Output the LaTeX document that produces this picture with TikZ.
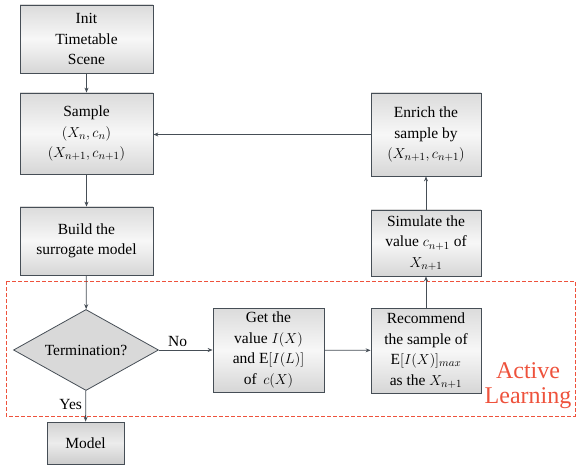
\documentclass[tikz,border=0pt]{standalone}
\usepackage{fontspec}
\setmainfont{Liberation Serif}
\usetikzlibrary{shapes.geometric,arrows.meta}
\definecolor{boxline}{RGB}{70,78,86}
\definecolor{alred}{RGB}{238,82,60}
\begin{document}
\begin{tikzpicture}[x=1pt,y=1pt,yscale=-1,
  font=\fontsize{15.5}{20.5}\selectfont,
  >={Stealth[length=5pt,width=4pt]},
  flowbox/.style={draw=boxline,line width=0.8pt,align=center,inner sep=1pt,
    top color=gray!28,bottom color=gray!32,middle color=gray!6},
  decision/.style={draw=boxline,line width=0.8pt,diamond,aspect=1.8,inner sep=0pt,
    fill=gray!30,minimum width=145,minimum height=81},
  link/.style={->,draw=boxline,line width=0.8pt}]
\useasboundingbox (0,0) rectangle (576,468);
\draw [alred,line width=0.7pt,dash pattern={on 4pt off 2pt}] (6,281) rectangle (575,416);
\node [flowbox,minimum width=133,minimum height=68] (init) at (86.5,39) {Init\\Timetable\\Scene};
\node [flowbox,minimum width=133,minimum height=81] (sample) at (86.5,133.5) {Sample\\$(X_n,c_n)$\\$(X_{n+1},c_{n+1})$};
\node [flowbox,minimum width=133,minimum height=68] (build) at (86.5,241) {Build the\\surrogate model};
\node [decision] (term) at (86,350) {Termination?};
\node [flowbox,minimum width=77,minimum height=42,top color=gray!35,bottom color=gray!40,middle color=gray!15] (model) at (85.5,443) {Model};
\node [flowbox,minimum width=111,minimum height=84] (get) at (268.5,350) {Get the\\value $I(X)$\\and E$[I(L)]$\\of \,$c(X)$};
\node [flowbox,minimum width=110,minimum height=85] (rec) at (426,350.5) {Recommend\\the sample of\\E$[I(X)]_{max}$\\as the $X_{n+1}$};
\node [flowbox,minimum width=110,minimum height=66] (sim) at (426,243) {Simulate the\\value $c_{n+1}$ of\\$X_{n+1}$};
\node [flowbox,minimum width=110,minimum height=83] (enrich) at (426,134.5) {Enrich the\\sample by\\$(X_{n+1},c_{n+1})$};
\node [alred,align=center,font=\fontsize{24}{25}\selectfont] (al) at (528,386) {Active\\Learning};
\draw [link] (init) -- (sample);
\draw [link] (sample) -- (build);
\draw [link] (build) -- (term);
\draw [link] (term) -- node [above,pos=0.35] {No} (get);
\draw [link] (term) -- node [left,pos=0.45] {Yes} (model);
\draw [link] (get) -- (rec);
\draw [link] (rec) -- (sim);
\draw [link] (sim) -- (enrich);
\draw [link] (enrich.west) -- (enrich.west -| sample.east);
\end{tikzpicture}
\end{document}
